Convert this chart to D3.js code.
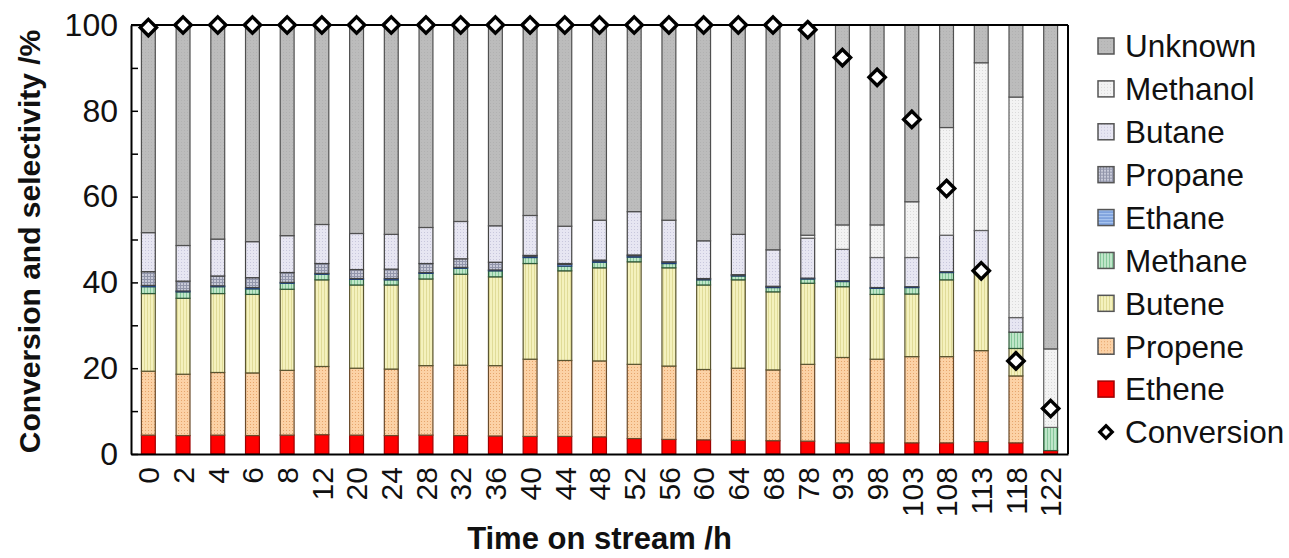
<!DOCTYPE html>
<html>
<head>
<meta charset="utf-8">
<script src="https://cdn.jsdelivr.net/npm/d3@7"></script>
<style>
  html, body { margin: 0; padding: 0; background: #ffffff; }
  svg { display: block; font-family: "Liberation Sans", Arial, sans-serif; }
</style>
</head>
<body>
<svg id="chart" width="1289" height="558"></svg>
<script>
// Time on stream (h)
const times = [0, 2, 4, 6, 8, 12, 20, 24, 28, 32, 36, 40, 44, 48, 52, 56, 60, 64, 68, 78, 93, 98, 103, 108, 113, 118, 122];

// Product selectivities (%)
const ethene   = [4.4, 4.3, 4.4, 4.3, 4.4, 4.5, 4.4, 4.3, 4.4, 4.3, 4.2, 4.1, 4.1, 4.0, 3.6, 3.4, 3.3, 3.2, 3.1, 3.0, 2.6, 2.6, 2.6, 2.6, 2.9, 2.6, 0.8];
const propene  = [14.9, 14.3, 14.6, 14.6, 15.1, 15.9, 15.6, 15.5, 16.2, 16.4, 16.4, 18.0, 17.7, 17.7, 17.3, 17.1, 16.4, 16.8, 16.5, 17.9, 19.9, 19.5, 20.1, 20.1, 21.2, 15.6, 0.0];
const butene   = [18.1, 17.7, 18.4, 18.3, 18.9, 20.2, 19.4, 19.6, 20.2, 21.2, 20.7, 22.3, 20.9, 21.7, 23.9, 22.9, 19.7, 20.6, 18.2, 18.9, 16.5, 15.1, 14.6, 17.9, 17.9, 6.4, 0.0];
const methane  = [1.6, 1.5, 1.6, 1.3, 1.4, 1.3, 1.3, 1.2, 1.3, 1.4, 1.4, 1.4, 1.1, 1.3, 1.1, 1.0, 1.2, 0.9, 1.0, 1.0, 1.2, 1.4, 1.5, 1.7, 0.3, 3.8, 5.4];
const ethane   = [0.3, 0.2, 0.2, 0.3, 0.2, 0.2, 0.2, 0.3, 0.2, 0.2, 0.2, 0.3, 0.4, 0.3, 0.3, 0.3, 0.2, 0.2, 0.2, 0.2, 0.2, 0.2, 0.2, 0.2, 0.1, 0.0, 0.0];
const propane  = [3.2, 2.3, 2.3, 2.3, 2.3, 2.3, 2.1, 2.2, 2.1, 2.0, 1.8, 0.2, 0.2, 0.2, 0.2, 0.1, 0.1, 0.1, 0.1, 0.0, 0.0, 0.0, 0.0, 0.0, 0.0, 0.0, 0.0];
const butane   = [9.1, 8.3, 8.6, 8.4, 8.6, 9.1, 8.4, 8.1, 8.4, 8.7, 8.5, 9.3, 8.7, 9.3, 10.1, 9.7, 8.8, 9.4, 8.5, 9.3, 7.3, 7.0, 6.8, 8.5, 9.7, 3.4, 0.0];
const methanol = [0.0, 0.0, 0.0, 0.0, 0.0, 0.0, 0.0, 0.0, 0.0, 0.0, 0.0, 0.0, 0.0, 0.0, 0.0, 0.0, 0.0, 0.0, 0.0, 0.7, 5.7, 7.6, 13.0, 25.1, 39.1, 51.4, 18.3];
const unknown  = [48.4, 51.4, 49.9, 50.5, 49.1, 46.5, 48.6, 48.8, 47.2, 45.8, 46.8, 44.4, 46.9, 45.5, 43.5, 45.5, 50.3, 48.8, 52.4, 49.0, 46.6, 46.6, 41.2, 23.9, 8.8, 16.8, 75.5];

// Methanol conversion (%)
const conversion = [99.4, 100, 100, 100, 100, 100, 100, 100, 100, 100, 100, 100, 100, 100, 100, 100, 100, 100, 100, 98.9, 92.4, 87.8, 78.0, 61.9, 42.7, 21.7, 10.6];

const yTicks = [0, 10, 20, 30, 40, 50, 60, 70, 80, 90, 100];

// Stack order, bottom to top
const seriesNames = ["Ethene", "Propene", "Butene", "Methane", "Ethane", "Propane", "Butane", "Methanol", "Unknown"];
const seriesData = [ethene, propene, butene, methane, ethane, propane, butane, methanol, unknown];

// Legend order, top to bottom
const legendNames = ["Unknown", "Methanol", "Butane", "Propane", "Ethane", "Methane", "Butene", "Propene", "Ethene", "Conversion"];

const rows = times.map((t, i) => {
  const r = { time: t };
  seriesNames.forEach((name, k) => { r[name] = seriesData[k][i]; });
  return r;
});

const svg = d3.select("#chart");
const plot = { left: 131, right: 1068, top: 25, bottom: 454 };

const x = d3.scaleBand()
  .domain(times)
  .range([plot.left, plot.right])
  .paddingInner(0.6)
  .paddingOuter(0.3);

const y = d3.scaleLinear().domain([0, 100]).range([plot.bottom, plot.top]);

// Fill patterns for each product
const defs = svg.append("defs");
function pattern(id, base, draw) {
  const p = defs.append("pattern")
    .attr("id", id)
    .attr("patternUnits", "userSpaceOnUse")
    .attr("width", 3).attr("height", 3);
  p.append("rect").attr("width", 3).attr("height", 3).attr("fill", base);
  draw(p);
}
pattern("p-unknown", "#bcbcbc", p => p.append("rect").attr("x", 1).attr("y", 1).attr("width", 1).attr("height", 1).attr("fill", "#b1b1b1"));
pattern("p-methanol", "#f3f3f3", p => p.append("rect").attr("x", 1).attr("y", 1).attr("width", 1).attr("height", 1).attr("fill", "#dadada"));
pattern("p-butane", "#e7e6f2", p => p.append("rect").attr("x", 1).attr("y", 1).attr("width", 1).attr("height", 1).attr("fill", "#c8c7dc"));
pattern("p-propane", "#c8cad8", p => {
  p.append("rect").attr("x", 0).attr("y", 0).attr("width", 3).attr("height", 1).attr("fill", "#9296ab");
  p.append("rect").attr("x", 0).attr("y", 0).attr("width", 1).attr("height", 3).attr("fill", "#9296ab");
});
pattern("p-ethane", "#a6c3ee", p => p.append("rect").attr("x", 0).attr("y", 0).attr("width", 3).attr("height", 1).attr("fill", "#5f88cf"));
pattern("p-methane", "#bfe6c9", p => p.append("rect").attr("x", 0).attr("y", 0).attr("width", 1).attr("height", 3).attr("fill", "#86c79b"));
pattern("p-butene", "#f4f1bd", p => p.append("rect").attr("x", 0).attr("y", 0).attr("width", 1).attr("height", 3).attr("fill", "#e0db98"));
pattern("p-propene", "#fcd2a6", p => p.append("rect").attr("x", 1).attr("y", 1).attr("width", 1).attr("height", 1).attr("fill", "#e6a56c"));

const fills = {
  Unknown: "url(#p-unknown)",
  Methanol: "url(#p-methanol)",
  Butane: "url(#p-butane)",
  Propane: "url(#p-propane)",
  Ethane: "url(#p-ethane)",
  Methane: "url(#p-methane)",
  Butene: "url(#p-butene)",
  Propene: "url(#p-propene)",
  Ethene: "#ff0000"
};
const strokes = {
  Unknown: "#505050",
  Methanol: "#606060",
  Butane: "#444444",
  Propane: "#444444",
  Ethane: "#1f3f7a",
  Methane: "#2f5a3a",
  Butene: "#5a5530",
  Propene: "#6a4a2a",
  Ethene: "#a00000"
};

// Stacked bars
const stacked = d3.stack().keys(seriesNames)(rows);
svg.append("g").selectAll("g")
  .data(stacked)
  .join("g")
  .attr("fill", d => fills[d.key])
  .attr("stroke", d => strokes[d.key])
  .attr("stroke-width", 1.2)
  .selectAll("rect")
  .data(d => d.filter(s => s[1] - s[0] > 0))
  .join("rect")
  .attr("x", d => x(d.data.time))
  .attr("width", x.bandwidth())
  .attr("y", d => y(d[1]))
  .attr("height", d => y(d[0]) - y(d[1]));

// Frame and axes
const frame = svg.append("g").attr("stroke", "#000").attr("stroke-width", 2).attr("fill", "none");
frame.append("line").attr("x1", plot.left).attr("x2", plot.right).attr("y1", plot.top).attr("y2", plot.top);
frame.append("line").attr("x1", plot.right).attr("x2", plot.right).attr("y1", plot.top).attr("y2", plot.bottom);

const yAxis = d3.axisLeft(y)
  .tickValues(yTicks)
  .tickSizeInner(-7)
  .tickSizeOuter(0)
  .tickPadding(13)
  .tickFormat(d => d % 20 === 0 ? d : "");
const gy = svg.append("g").attr("transform", `translate(${plot.left},0)`).call(yAxis);
gy.select(".domain").attr("stroke", "#000").attr("stroke-width", 2);
gy.selectAll(".tick line").attr("stroke", "#000").attr("stroke-width", 1.5);
gy.selectAll(".tick text")
  .attr("font-size", 32)
  .attr("font-family", "'Liberation Sans', Arial, sans-serif")
  .attr("fill", "#111");

const xAxis = d3.axisBottom(x).tickSize(0).tickPadding(0);
const gx = svg.append("g").attr("transform", `translate(0,${plot.bottom})`).call(xAxis);
gx.select(".domain").attr("stroke", "#000").attr("stroke-width", 2);
gx.selectAll(".tick text")
  .attr("font-size", 30)
  .attr("font-family", "'Liberation Sans', Arial, sans-serif")
  .attr("fill", "#111")
  .attr("text-anchor", "end")
  .attr("transform", "rotate(-90)")
  .attr("x", -13)
  .attr("y", 0)
  .attr("dy", "0.36em");

// Conversion markers
const diamond = d3.symbol().type(d3.symbolDiamond2).size(170);
svg.append("g").selectAll("path")
  .data(times.map((t, i) => ({ time: t, value: conversion[i] })))
  .join("path")
  .attr("d", diamond)
  .attr("transform", d => `translate(${x(d.time) + x.bandwidth() / 2},${y(d.value)})`)
  .attr("fill", "#fff")
  .attr("stroke", "#000")
  .attr("stroke-width", 3.4)
  .attr("stroke-linejoin", "miter");

// Axis titles
svg.append("text")
  .attr("transform", `translate(40,${(plot.top + plot.bottom) / 2 + 2}) rotate(-90)`)
  .attr("text-anchor", "middle")
  .attr("font-size", 30)
  .attr("font-weight", "bold")
  .attr("fill", "#111")
  .text("Conversion and selectivity /%");

svg.append("text")
  .attr("x", (plot.left + plot.right) / 2)
  .attr("y", 549)
  .attr("text-anchor", "middle")
  .attr("font-size", 31)
  .attr("font-weight", "bold")
  .attr("fill", "#111")
  .text("Time on stream /h");

// Legend
const legendY = d3.scalePoint().domain(legendNames).range([46, 432]);
const lg = svg.append("g");
const items = lg.selectAll("g").data(legendNames).join("g")
  .attr("transform", d => `translate(1106,${legendY(d)})`);
items.filter(d => d !== "Conversion").append("rect")
  .attr("x", -8).attr("y", -8).attr("width", 16).attr("height", 16)
  .attr("fill", d => fills[d])
  .attr("stroke", d => d === "Ethene" ? "#a00000" : "#555")
  .attr("stroke-width", 1.5);
items.filter(d => d === "Conversion").append("path")
  .attr("d", d3.symbol().type(d3.symbolDiamond2).size(100))
  .attr("fill", "#fff").attr("stroke", "#000").attr("stroke-width", 3.2);
items.append("text")
  .attr("x", 19)
  .attr("dy", "0.36em")
  .attr("font-size", 31.5)
  .attr("fill", "#111")
  .text(d => d);
</script>
</body>
</html>
